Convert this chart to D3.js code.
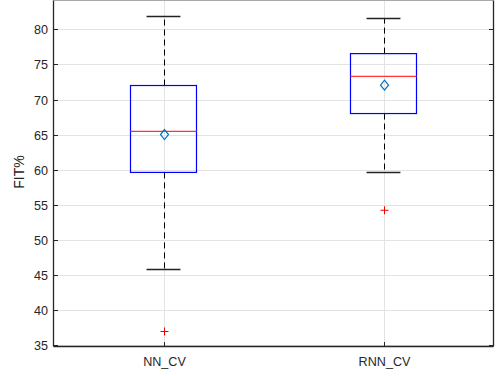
<!DOCTYPE html>
<html><head><meta charset="utf-8">
<script src="https://cdn.jsdelivr.net/npm/d3@7"></script>
<style>body{margin:0;background:#fff}svg{display:block}</style>
</head><body>
<script>
const categories = ["NN_CV", "RNN_CV"];
const q1 = [59.6, 68.0];
const median = [65.45, 73.3];
const q3 = [72.0, 76.55];
const whiskerLow = [45.8, 59.65];
const whiskerHigh = [81.95, 81.6];
const means = [65.0, 72.05];
const outliers = [[36.9], [54.2]];
const yTicks = [35, 40, 45, 50, 55, 60, 65, 70, 75, 80];
const yLabel = "FIT%";

const W = 497, H = 376;
const m = {left: 53.5, right: 3.5, top: 0.5, bottom: 29.5};
const svg = d3.select("body").append("svg").attr("width", W).attr("height", H);
const x = d3.scaleLinear().domain([0.5, 2.5]).range([m.left, W - m.right]);
const y = d3.scaleLinear().domain([34.76, 84.13]).range([H - m.bottom, m.top]);
const font = "'Liberation Sans', Arial, Helvetica, sans-serif";
const axisCol = "#262626";

// grid
const g = svg.append("g");
g.selectAll("line.hg").data(yTicks).join("line")
  .attr("x1", x(0.5)).attr("x2", x(2.5))
  .attr("y1", d => Math.round(y(d)) + 0.5).attr("y2", d => Math.round(y(d)) + 0.5)
  .attr("stroke", "#e3e3e3").attr("stroke-width", 1);
g.selectAll("line.vg").data(categories).join("line")
  .attr("x1", (d, i) => Math.round(x(i + 1)) + 0.5).attr("x2", (d, i) => Math.round(x(i + 1)) + 0.5)
  .attr("y1", y(84.13)).attr("y2", y(34.76))
  .attr("stroke", "#e3e3e3").attr("stroke-width", 1);

// boxes
const bw = 0.15, cw = 0.077;
categories.forEach((c, i) => {
  const cx = Math.round(x(i + 1)) + 0.5;
  svg.append("line").attr("x1", cx).attr("x2", cx).attr("y1", y(q3[i])).attr("y2", y(whiskerHigh[i]))
    .attr("stroke", "#000").attr("stroke-dasharray", "6,4");
  svg.append("line").attr("x1", cx).attr("x2", cx).attr("y1", y(q1[i])).attr("y2", y(whiskerLow[i]))
    .attr("stroke", "#000").attr("stroke-dasharray", "6,4");
  [whiskerHigh[i], whiskerLow[i]].forEach(v => {
    svg.append("line").attr("x1", x(i + 1 - cw)).attr("x2", x(i + 1 + cw))
      .attr("y1", Math.round(y(v)) + 0.5).attr("y2", Math.round(y(v)) + 0.5)
      .attr("stroke", "#222").attr("stroke-width", 1.3);
  });
  svg.append("rect").attr("x", x(i + 1 - bw)).attr("width", x(i + 1 + bw) - x(i + 1 - bw))
    .attr("y", y(q3[i])).attr("height", y(q1[i]) - y(q3[i]))
    .attr("fill", "none").attr("stroke", "#0000ff").attr("stroke-width", 1.2);
  svg.append("line").attr("x1", x(i + 1 - bw)).attr("x2", x(i + 1 + bw))
    .attr("y1", y(median[i])).attr("y2", y(median[i]))
    .attr("stroke", "#ff3333").attr("stroke-width", 1.3);
  const my = y(means[i]);
  svg.append("path").attr("d", `M${cx},${my - 5}L${cx + 4},${my}L${cx},${my + 5}L${cx - 4},${my}Z`)
    .attr("fill", "none").attr("stroke", "#0072BD").attr("stroke-width", 1.2);
  outliers[i].forEach(v => {
    const oy = y(v);
    svg.append("path").attr("d", `M${cx - 4},${oy}H${cx + 4}M${cx},${oy - 4}V${oy + 4}`)
      .attr("stroke", "#ee0000").attr("stroke-width", 1);
  });
});

// axes frame
const L = x(0.5), R = x(2.5), T = y(84.13), B = y(34.76);
svg.append("line").attr("x1", L).attr("x2", R).attr("y1", T).attr("y2", T).attr("stroke", "#aaa");
svg.append("line").attr("x1", L).attr("x2", R).attr("y1", B).attr("y2", B).attr("stroke", axisCol).attr("stroke-width", 1.3);
svg.append("line").attr("x1", L).attr("x2", L).attr("y1", T).attr("y2", B).attr("stroke", axisCol).attr("stroke-width", 1.3);
svg.append("line").attr("x1", R).attr("x2", R).attr("y1", T).attr("y2", B).attr("stroke", axisCol).attr("stroke-width", 1.3);

yTicks.forEach(t => {
  const ty = Math.round(y(t)) + 0.5;
  svg.append("line").attr("x1", L).attr("x2", L + 4.5).attr("y1", ty).attr("y2", ty).attr("stroke", axisCol);
  svg.append("line").attr("x1", R).attr("x2", R - 4.5).attr("y1", ty).attr("y2", ty).attr("stroke", axisCol);
  svg.append("text").attr("x", L - 5.5).attr("y", ty).attr("dy", "0.36em").attr("text-anchor", "end")
    .attr("font-family", font).attr("font-size", 12.6).attr("fill", axisCol).text(t);
});
categories.forEach((c, i) => {
  const cx = Math.round(x(i + 1)) + 0.5;
  svg.append("line").attr("x1", cx).attr("x2", cx).attr("y1", B).attr("y2", B - 4.5).attr("stroke", axisCol);
  svg.append("text").attr("x", cx).attr("y", B + 19.5).attr("text-anchor", "middle")
    .attr("font-family", font).attr("font-size", 12.6).attr("fill", axisCol).text(c);
});
svg.append("text").attr("transform", `translate(23.5,172) rotate(-90)`)
  .attr("text-anchor", "middle").attr("font-family", font).attr("font-size", 14)
  .attr("fill", axisCol).text(yLabel);
</script>
</body></html>
